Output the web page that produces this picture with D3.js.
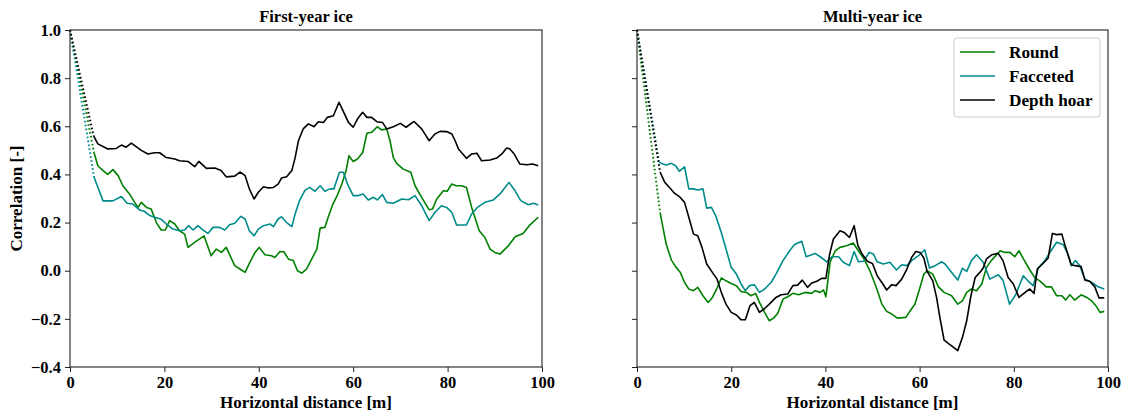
<!DOCTYPE html>
<html>
<head>
<meta charset="utf-8">
<script src="https://cdn.jsdelivr.net/npm/d3@7"></script>
<style>
body { margin: 0; background: #fff; }
text { font-family: "Liberation Serif", "Times New Roman", serif; font-weight: bold; }
</style>
</head>
<body>
<div id="svg-container"></div>
<script>
var width = 1126;
var height = 415;

// tick values
var xTicks = [0, 20, 40, 60, 80, 100];
var yTicks = [-0.4, -0.2, 0.0, 0.2, 0.4, 0.6, 0.8, 1.0];

var panelTitles = ["First-year ice", "Multi-year ice"];
var seriesNames = ["Round", "Facceted", "Depth hoar"];
var seriesColors = ["#008000", "#008b8b", "#000000"];

// [distance m, correlation]; lag 0 is always 1.0
var fyRound = [[5.1,0.49],[5.9,0.436],[7,0.416],[8,0.40],[9.1,0.42],[10.2,0.395],[11.2,0.353],[12.6,0.319],[13.7,0.284],[14.4,0.263],[15.1,0.284],[16.2,0.263],[17.2,0.256],[18.3,0.20],[19.3,0.169],[20.2,0.169],[21.1,0.208],[22.2,0.194],[23.2,0.166],[24.3,0.152],[25,0.097],[26.4,0.118],[28.4,0.145],[29.9,0.062],[31,0.09],[32.1,0.076],[33.1,0.097],[34.9,0.021],[36,0.007],[37.1,-0.007],[38.1,0.035],[39.2,0.076],[40.1,0.097],[41.3,0.066],[42.7,0.062],[43.4,0.055],[44.5,0.08],[45.3,0.079],[46.3,0.048],[47.3,0.042],[48.2,0.0],[49.1,-0.01],[50.1,0.007],[51.2,0.048],[52.3,0.09],[53,0.177],[54,0.18],[54.7,0.222],[55.7,0.277],[56.6,0.312],[57.6,0.36],[58.5,0.416],[59.1,0.478],[60,0.454],[60.9,0.464],[62,0.49],[62.9,0.571],[63.9,0.575],[65.1,0.598],[66,0.585],[67.1,0.589],[67.8,0.54],[68.5,0.47],[69.2,0.446],[70.6,0.422],[72.2,0.409],[73.1,0.353],[74.5,0.305],[76.1,0.253],[76.8,0.256],[77.7,0.298],[79.1,0.332],[79.9,0.33],[80.9,0.36],[81.8,0.353],[83,0.353],[84,0.346],[85.1,0.263],[86.7,0.166],[87.9,0.138],[89,0.09],[90,0.076],[91.1,0.069],[92.9,0.104],[94.3,0.141],[96,0.155],[97.3,0.187],[99.2,0.222]];

var fyFacceted = [[5.1,0.388],[7,0.29],[9.1,0.29],[10.9,0.308],[12.1,0.28],[13.3,0.277],[14.8,0.252],[15.8,0.246],[16.9,0.229],[17.9,0.222],[19.2,0.215],[20.4,0.194],[21.8,0.173],[23.2,0.166],[24.3,0.169],[25.1,0.187],[26.1,0.169],[27.1,0.187],[28.2,0.169],[29.2,0.155],[30.3,0.18],[31.7,0.18],[32.8,0.169],[33.8,0.191],[34.9,0.197],[36.2,0.226],[37.1,0.215],[38,0.166],[39,0.145],[39.9,0.173],[41,0.187],[42.4,0.194],[43.1,0.183],[44.1,0.215],[44.8,0.224],[45.9,0.20],[47,0.183],[47.7,0.236],[48.6,0.29],[49.8,0.335],[50.8,0.346],[51.9,0.33],[53,0.353],[54,0.33],[55.1,0.34],[55.9,0.34],[57.1,0.409],[57.9,0.409],[58.8,0.36],[60,0.312],[61.1,0.312],[62.1,0.319],[63.2,0.294],[64.3,0.305],[65.1,0.294],[66.2,0.316],[67.1,0.284],[68.5,0.28],[70.3,0.298],[71.7,0.295],[73.1,0.312],[74.5,0.27],[76.1,0.208],[77.3,0.242],[78.7,0.27],[79.8,0.263],[80.9,0.242],[81.9,0.19],[84,0.19],[85.1,0.236],[86.3,0.263],[87.9,0.284],[89.7,0.294],[91.1,0.319],[93,0.367],[94.3,0.332],[95.5,0.291],[97.1,0.274],[98.2,0.28],[99.2,0.273]];

var fyDepth = [[5,0.56],[5.9,0.527],[8,0.506],[9.8,0.508],[10.9,0.522],[11.9,0.513],[13,0.53],[15.1,0.50],[16.5,0.485],[17.9,0.49],[19,0.49],[20.4,0.47],[22.2,0.464],[23.2,0.457],[25,0.454],[26.4,0.432],[27.3,0.454],[28.9,0.425],[30.7,0.427],[32,0.416],[33.1,0.39],[34.9,0.393],[36,0.41],[37.1,0.395],[38,0.34],[39,0.298],[39.9,0.326],[41,0.349],[42,0.344],[43.1,0.346],[44.1,0.36],[44.8,0.385],[45.9,0.39],[47,0.416],[47.7,0.47],[48.4,0.54],[49.4,0.589],[50.5,0.61],[51.7,0.598],[52.6,0.619],[53.7,0.616],[54.5,0.637],[55.8,0.644],[57,0.70],[58,0.658],[59,0.616],[60,0.596],[60.9,0.63],[62,0.658],[62.9,0.637],[63.9,0.637],[65,0.619],[66.2,0.616],[67.1,0.589],[68.5,0.598],[70,0.612],[71.2,0.596],[72.9,0.62],[74.5,0.589],[76.1,0.54],[77.3,0.568],[78.4,0.579],[79.8,0.578],[80.9,0.568],[81.6,0.54],[82.3,0.506],[84,0.467],[85.1,0.485],[86.2,0.488],[87.2,0.457],[89,0.46],[90.4,0.468],[91.5,0.485],[92.5,0.51],[93.2,0.506],[94.1,0.485],[95.3,0.443],[96.8,0.44],[98,0.443],[99.2,0.436]];

var myRound = [[4.9,0.242],[5.5,0.18],[6.2,0.111],[7.3,0.044],[8.2,0.017],[9.2,-0.007],[10.1,-0.049],[11,-0.076],[12,-0.083],[12.9,-0.069],[14,-0.104],[15.1,-0.132],[16,-0.111],[17,-0.072],[17.9,-0.03],[18.9,-0.042],[20,-0.053],[21.1,-0.062],[22.1,-0.086],[23.2,-0.09],[24.2,-0.104],[25.2,-0.094],[26,-0.132],[27.1,-0.173],[28.1,-0.208],[29,-0.197],[29.9,-0.177],[31,-0.118],[32,-0.108],[33.1,-0.094],[34.3,-0.1],[35.7,-0.09],[37.1,-0.094],[37.8,-0.083],[38.9,-0.09],[39.6,-0.08],[40.1,-0.108],[41,0.035],[42.1,0.083],[43.1,0.097],[44.5,0.104],[45.9,0.115],[47,0.083],[48.2,0.049],[49.5,-0.003],[50.8,-0.069],[52,-0.139],[53,-0.169],[54.1,-0.18],[55.3,-0.197],[57.1,-0.194],[58,-0.166],[59,-0.139],[60.1,-0.069],[60.9,-0.014],[61.6,0.0],[62.8,-0.014],[64,-0.067],[65.2,-0.09],[66.8,-0.104],[68.1,-0.139],[69.1,-0.125],[70,-0.09],[71,-0.076],[72.1,-0.083],[73.2,-0.055],[74.2,0.014],[75.3,0.044],[77.1,0.083],[78.1,0.076],[79.2,0.076],[80.2,0.058],[81.1,0.083],[82.2,0.044],[83.4,0.003],[84.5,-0.03],[85.5,-0.042],[86.9,-0.067],[88,-0.067],[89.1,-0.104],[90.2,-0.104],[91,-0.122],[91.9,-0.1],[92.9,-0.122],[94.3,-0.1],[95.5,-0.111],[96.5,-0.125],[97.6,-0.15],[98.3,-0.173],[99.2,-0.169]];

var myFacceted = [[4.7,0.45],[5.5,0.443],[6.2,0.439],[7.3,0.446],[8.2,0.436],[9,0.413],[10.1,0.432],[11,0.34],[12,0.34],[12.9,0.335],[14,0.34],[14.8,0.26],[15.8,0.263],[16.7,0.229],[17.9,0.159],[18.9,0.09],[20,0.014],[21.1,-0.014],[22.1,-0.055],[23,-0.083],[23.9,-0.062],[24.9,-0.058],[26,-0.09],[27.1,-0.076],[28.5,-0.048],[29.5,-0.014],[31,0.042],[32.4,0.083],[33.4,0.108],[33.9,0.113],[35,0.122],[35.9,0.058],[37.8,0.072],[38.9,0.058],[40.3,0.037],[41.4,0.058],[42.8,0.058],[43.8,0.035],[45.1,0.021],[46.1,0.08],[47,0.037],[48.1,0.039],[49.3,0.076],[50.2,0.069],[51,0.037],[52.3,0.028],[53.7,0.035],[55.1,0.003],[56.2,0.025],[57.3,0.021],[58.3,0.042],[59.7,0.062],[61.1,0.087],[62.1,0.011],[63.3,0.021],[64.7,0.037],[65.4,0.028],[66.8,-0.007],[68.1,-0.039],[69.1,0.01],[70,-0.003],[71,0.042],[72.1,0.066],[73.5,0.035],[74.9,-0.035],[76.7,-0.017],[77.7,-0.039],[79.1,-0.139],[80.4,-0.1],[82,-0.021],[83,-0.042],[84.1,-0.062],[85.2,0.011],[86.6,0.042],[87.9,0.083],[89.1,0.118],[90.5,0.108],[91.5,0.069],[92.2,0.021],[93.1,0.042],[94,0.021],[95.1,-0.035],[96.5,-0.048],[97.9,-0.067],[99.2,-0.076]];

var myDepth = [[4.9,0.41],[5.9,0.367],[6.9,0.346],[8,0.321],[9,0.308],[10.1,0.284],[11,0.222],[12,0.152],[12.9,0.145],[13.8,0.097],[14.8,0.028],[16,-0.007],[17,-0.035],[17.9,-0.09],[18.9,-0.139],[20,-0.173],[21.1,-0.184],[22.1,-0.204],[23,-0.204],[24,-0.145],[24.9,-0.132],[26,-0.173],[27.1,-0.157],[28.1,-0.139],[29.5,-0.111],[30.6,-0.1],[32,-0.097],[33.1,-0.062],[34.1,-0.06],[35.1,-0.039],[36.2,-0.069],[37.1,-0.051],[38.2,-0.044],[39.2,-0.032],[40.1,-0.032],[40.9,0.069],[41.7,0.132],[43.1,0.166],[44,0.159],[45.1,0.138],[46.1,0.187],[46.9,0.104],[47.9,0.066],[48.9,0.039],[50,0.03],[51,-0.021],[52.2,-0.055],[53,-0.08],[54.1,-0.058],[55,-0.062],[56.2,-0.035],[57.3,0.007],[58.3,0.055],[59.2,0.08],[60.1,0.076],[60.9,0.053],[61.6,-0.003],[62.8,-0.042],[63.6,-0.111],[64.3,-0.194],[65.2,-0.288],[66.3,-0.305],[66.8,-0.312],[68.1,-0.332],[69.1,-0.277],[70,-0.208],[70.9,-0.104],[71.8,-0.028],[72.8,-0.007],[73.5,0.011],[74.2,0.049],[75.3,0.066],[76.7,0.072],[77.7,0.042],[78.8,-0.028],[79.9,-0.055],[81.1,-0.111],[82.4,-0.09],[83.4,-0.076],[84.3,-0.094],[85,0.007],[86.2,0.03],[87.3,0.053],[88.2,0.155],[89.1,0.15],[90.2,0.152],[91,0.097],[92.2,0.025],[93.1,0.021],[94.3,0.017],[95.1,-0.039],[96.1,-0.044],[97.2,-0.067],[98.1,-0.113],[99.2,-0.113]];

var panels = [
	{left: 70, right: 542, series: [fyRound, fyFacceted, fyDepth], yLabels: true},
	{left: 637, right: 1108, series: [myRound, myFacceted, myDepth], yLabels: false}
];
var plotTop = 30;
var plotBottom = 367;

var svg = d3.select("#svg-container").append("svg")
	.attr("width", width)
	.attr("height", height);

var y = d3.scaleLinear().domain([-0.4, 1.0]).range([plotBottom, plotTop]);

function drawPanel(p, k) {
	var x = d3.scaleLinear().domain([0, 100]).range([p.left, p.right]);
	var g = svg.append("g");

	var line = d3.line()
		.x(function(d) { return x(d[0]); })
		.y(function(d) { return y(d[1]); });

	p.series.forEach(function(s, i) {
		// dotted part from lag 0 to first measured lag
		g.append("path")
			.attr("d", line([[0, 1.0], s[0]]))
			.attr("fill", "none")
			.attr("stroke", seriesColors[i])
			.attr("stroke-width", 2)
			.attr("stroke-dasharray", "1.6,2.4");
		g.append("path")
			.attr("d", line(s))
			.attr("fill", "none")
			.attr("stroke", seriesColors[i])
			.attr("stroke-width", 1.6)
			.attr("stroke-linejoin", "round");
	});

	var xAxis = g.append("g")
		.attr("transform", "translate(0," + plotBottom + ")")
		.call(d3.axisBottom(x).tickValues(xTicks).tickSize(5).tickPadding(4).tickFormat(d3.format("d")));
	var yAxis = g.append("g")
		.attr("transform", "translate(" + p.left + ",0)")
		.call(d3.axisLeft(y).tickValues(yTicks).tickSize(5).tickPadding(4)
			.tickFormat(p.yLabels ? d3.format(".1f") : ""));

	[xAxis, yAxis].forEach(function(a) {
		a.select(".domain").remove();
		a.selectAll("text")
			.attr("font-size", 16.5)
			.attr("font-family", "Liberation Serif")
			.attr("font-weight", "bold")
			.attr("fill", "#000");
		a.selectAll("line").attr("stroke", "#222");
	});

	g.append("rect")
		.attr("x", p.left)
		.attr("y", plotTop)
		.attr("width", p.right - p.left)
		.attr("height", plotBottom - plotTop)
		.attr("fill", "none")
		.attr("stroke", "#222")
		.attr("stroke-width", 1.1);

	g.append("text")
		.attr("x", (p.left + p.right) / 2)
		.attr("y", 22)
		.attr("text-anchor", "middle")
		.attr("font-size", 16.5)
		.text(panelTitles[k]);

	g.append("text")
		.attr("x", (p.left + p.right) / 2)
		.attr("y", 408)
		.attr("text-anchor", "middle")
		.attr("font-size", 17)
		.text("Horizontal distance [m]");
}

panels.forEach(drawPanel);

svg.append("text")
	.attr("transform", "translate(22," + ((plotTop + plotBottom) / 2) + ") rotate(-90)")
	.attr("text-anchor", "middle")
	.attr("font-size", 17)
	.text("Correlation [-]");

// legend
var legend = svg.append("g");
legend.append("rect")
	.attr("x", 954)
	.attr("y", 38)
	.attr("width", 146)
	.attr("height", 79)
	.attr("rx", 3)
	.attr("fill", "#fff")
	.attr("fill-opacity", 0.8)
	.attr("stroke", "#ccc");

seriesNames.forEach(function(name, i) {
	var ly = 52 + i * 24;
	legend.append("line")
		.attr("x1", 960)
		.attr("x2", 995)
		.attr("y1", ly)
		.attr("y2", ly)
		.attr("stroke", seriesColors[i])
		.attr("stroke-width", 1.6);
	legend.append("text")
		.attr("x", 1009)
		.attr("y", ly + 5.5)
		.attr("font-size", 17.2)
		.text(name);
});
</script>
</body>
</html>
